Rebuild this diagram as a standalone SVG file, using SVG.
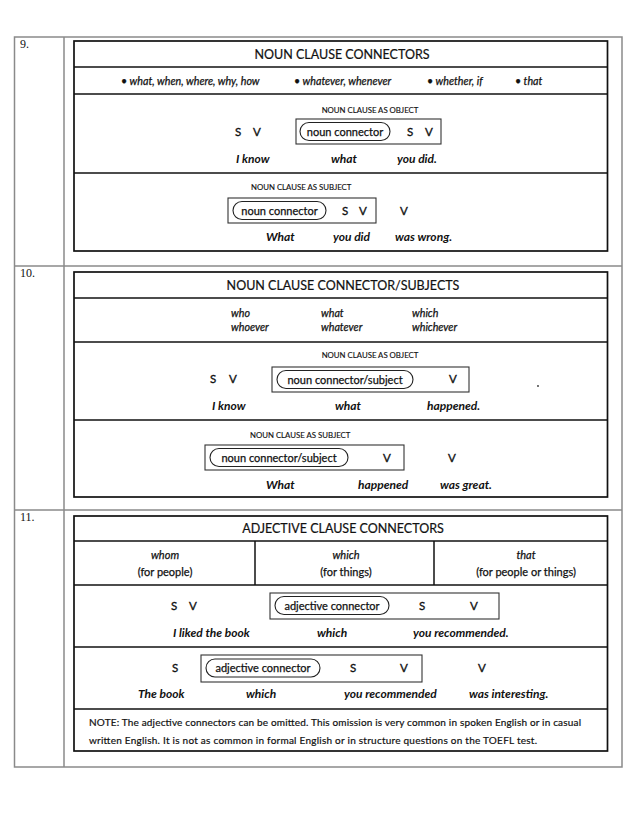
<svg xmlns="http://www.w3.org/2000/svg" width="638" height="826" viewBox="0 0 638 826">
<style>
.grid{fill:none;stroke:#8a8a8a;stroke-width:1.5}
.box{fill:none;stroke:#111;stroke-width:1.7}
.rule{stroke:#111;stroke-width:1.5}
.sub{fill:none;stroke:#333;stroke-width:1.1}
.pill{fill:none;stroke:#222;stroke-width:1.1}
.num{font-family:"Liberation Serif",serif;font-size:12px;fill:#111}
.title{font-family:Lato,"Open Sans",sans-serif;font-size:12.5px;fill:#111;text-anchor:middle;stroke:#111;stroke-width:0.2}
.it{font-family:Lato,"Open Sans",sans-serif;font-style:italic;font-size:10.7px;fill:#111;stroke:#111;stroke-width:0.25}
.cap{font-family:Lato,"Open Sans",sans-serif;font-size:7.8px;fill:#111;stroke:#111;stroke-width:0.15}
.sv{font-family:Lato,"Open Sans",sans-serif;font-size:11.5px;fill:#111;stroke:#111;stroke-width:0.35}
.pt{font-family:Lato,"Open Sans",sans-serif;font-size:11px;fill:#111;text-anchor:middle;stroke:#111;stroke-width:0.25}
.ex{font-family:Lato,"Open Sans",sans-serif;font-weight:bold;font-style:italic;font-size:12px;fill:#111}
.rg{font-family:Lato,"Open Sans",sans-serif;font-size:11px;fill:#111;text-anchor:middle;stroke:#111;stroke-width:0.25}
.itc{font-family:Lato,"Open Sans",sans-serif;font-style:italic;font-size:11px;fill:#111;text-anchor:middle;stroke:#111;stroke-width:0.25}
.note{font-family:Lato,"Open Sans",sans-serif;font-size:10px;fill:#111;stroke:#111;stroke-width:0.2}
</style>
<rect width="638" height="826" fill="#fff"/>
<g id="table">
<rect class="grid" x="14.5" y="37" width="607.5" height="730"/>
<line class="grid" x1="64" y1="37" x2="64" y2="767"/>
<line class="grid" x1="14.5" y1="266" x2="622" y2="266"/>
<line class="grid" x1="14.5" y1="510" x2="622" y2="510"/>
<text class="num" x="20" y="48">9.</text>
<text class="num" x="20" y="277">10.</text>
<text class="num" x="20" y="521">11.</text>
</g>
<g id="connectors"></g>
<g id="sec9">
<rect class="box" x="74" y="41" width="533.5" height="210"/>
<line class="rule" x1="74" y1="67" x2="607.5" y2="67"/>
<line class="rule" x1="74" y1="94" x2="607.5" y2="94"/>
<line class="rule" x1="74" y1="173" x2="607.5" y2="173"/>
<text class="title" x="342" y="59">NOUN CLAUSE CONNECTORS</text>
<text class="it" x="121" y="85">•  what, when, where, why, how</text>
<text class="it" x="294" y="85">•  whatever, whenever</text>
<text class="it" x="427" y="85">•  whether, if</text>
<text class="it" x="515" y="85">•  that</text>
<text class="cap" x="370" y="113" text-anchor="middle">NOUN CLAUSE AS OBJECT</text>
<text class="sv" x="235" y="136">S</text>
<text class="sv" x="253" y="136">V</text>
<rect class="sub" x="296" y="119" width="145" height="25"/>
<rect class="pill" x="300" y="122.5" width="90" height="18" rx="9"/>
<text class="pt" x="345" y="135.5">noun connector</text>
<text class="sv" x="407" y="136">S</text>
<text class="sv" x="425" y="136">V</text>
<text class="ex" x="236" y="163">I know</text>
<text class="ex" x="331" y="163">what</text>
<text class="ex" x="397" y="163">you did.</text>
<text class="cap" x="251" y="190">NOUN CLAUSE AS SUBJECT</text>
<rect class="sub" x="228" y="198" width="148" height="25"/>
<rect class="pill" x="233" y="201.5" width="93" height="18" rx="9"/>
<text class="pt" x="279.5" y="214.5">noun connector</text>
<text class="sv" x="342" y="215">S</text>
<text class="sv" x="359" y="215">V</text>
<text class="sv" x="400" y="215">V</text>
<text class="ex" x="266" y="241">What</text>
<text class="ex" x="333" y="241">you did</text>
<text class="ex" x="395" y="241">was wrong.</text>
</g>
<g id="sec10">
<rect class="box" x="74" y="272" width="533.5" height="225"/>
<line class="rule" x1="74" y1="298" x2="607.5" y2="298"/>
<line class="rule" x1="74" y1="342" x2="607.5" y2="342"/>
<line class="rule" x1="74" y1="420" x2="607.5" y2="420"/>
<text class="title" x="343" y="290">NOUN CLAUSE CONNECTOR/SUBJECTS</text>
<text class="it" x="231" y="317">who</text>
<text class="it" x="231" y="331">whoever</text>
<text class="it" x="321" y="317">what</text>
<text class="it" x="321" y="331">whatever</text>
<text class="it" x="412" y="317">which</text>
<text class="it" x="412" y="331">whichever</text>
<text class="cap" x="370" y="358" text-anchor="middle">NOUN CLAUSE AS OBJECT</text>
<text class="sv" x="210" y="383">S</text>
<text class="sv" x="229" y="383">V</text>
<rect class="sub" x="272" y="367" width="197" height="25"/>
<rect class="pill" x="277" y="370.5" width="136" height="18" rx="9"/>
<text class="pt" x="345" y="383.5">noun connector/subject</text>
<text class="sv" x="449" y="383">V</text>
<circle cx="538" cy="386" r="0.9" fill="#333"/>
<text class="ex" x="212" y="410">I know</text>
<text class="ex" x="335" y="410">what</text>
<text class="ex" x="427" y="410">happened.</text>
<text class="cap" x="250" y="438">NOUN CLAUSE AS SUBJECT</text>
<rect class="sub" x="205" y="445" width="199" height="25"/>
<rect class="pill" x="210" y="448.5" width="138" height="18" rx="9"/>
<text class="pt" x="279" y="461.5">noun connector/subject</text>
<text class="sv" x="383" y="462">V</text>
<text class="sv" x="448" y="462">V</text>
<text class="ex" x="266" y="489">What</text>
<text class="ex" x="358" y="489">happened</text>
<text class="ex" x="440" y="489">was great.</text>
</g>
<g id="sec11">
<rect class="box" x="74" y="516" width="533.5" height="235"/>
<line class="rule" x1="74" y1="541" x2="607.5" y2="541"/>
<line class="rule" x1="74" y1="585" x2="607.5" y2="585"/>
<line class="rule" x1="74" y1="647" x2="607.5" y2="647"/>
<line class="rule" x1="74" y1="709" x2="607.5" y2="709"/>
<line class="rule" x1="255" y1="541" x2="255" y2="585"/>
<line class="rule" x1="434" y1="541" x2="434" y2="585"/>
<text class="title" x="343" y="533">ADJECTIVE CLAUSE CONNECTORS</text>
<text class="itc" x="165" y="559">whom</text>
<text class="rg" x="165" y="576">(for people)</text>
<text class="itc" x="346" y="559">which</text>
<text class="rg" x="346" y="576">(for things)</text>
<text class="itc" x="526" y="559">that</text>
<text class="rg" x="526" y="576">(for people or things)</text>
<text class="sv" x="171" y="610">S</text>
<text class="sv" x="189" y="610">V</text>
<rect class="sub" x="270" y="593" width="229" height="26"/>
<rect class="pill" x="275" y="596.5" width="114" height="18" rx="9"/>
<text class="pt" x="332" y="609.5">adjective connector</text>
<text class="sv" x="419" y="610">S</text>
<text class="sv" x="470" y="610">V</text>
<text class="ex" x="173" y="637">I liked the book</text>
<text class="ex" x="317" y="637">which</text>
<text class="ex" x="413" y="637">you recommended.</text>
<text class="sv" x="172" y="672">S</text>
<rect class="sub" x="201" y="655" width="221" height="27"/>
<rect class="pill" x="206" y="659" width="114" height="18" rx="9"/>
<text class="pt" x="263" y="672">adjective connector</text>
<text class="sv" x="350" y="672">S</text>
<text class="sv" x="400" y="672">V</text>
<text class="sv" x="478" y="672">V</text>
<text class="ex" x="138" y="698">The book</text>
<text class="ex" x="246" y="698">which</text>
<text class="ex" x="344" y="698">you recommended</text>
<text class="ex" x="469" y="698">was interesting.</text>
<text class="note" x="89" y="726" textLength="492">NOTE: The adjective connectors can be omitted. This omission is very common in spoken English or in casual</text>
<text class="note" x="89" y="744" textLength="448">written English.  It is not as common in formal English or in structure questions on the TOEFL test.</text>
</g>
</svg>
